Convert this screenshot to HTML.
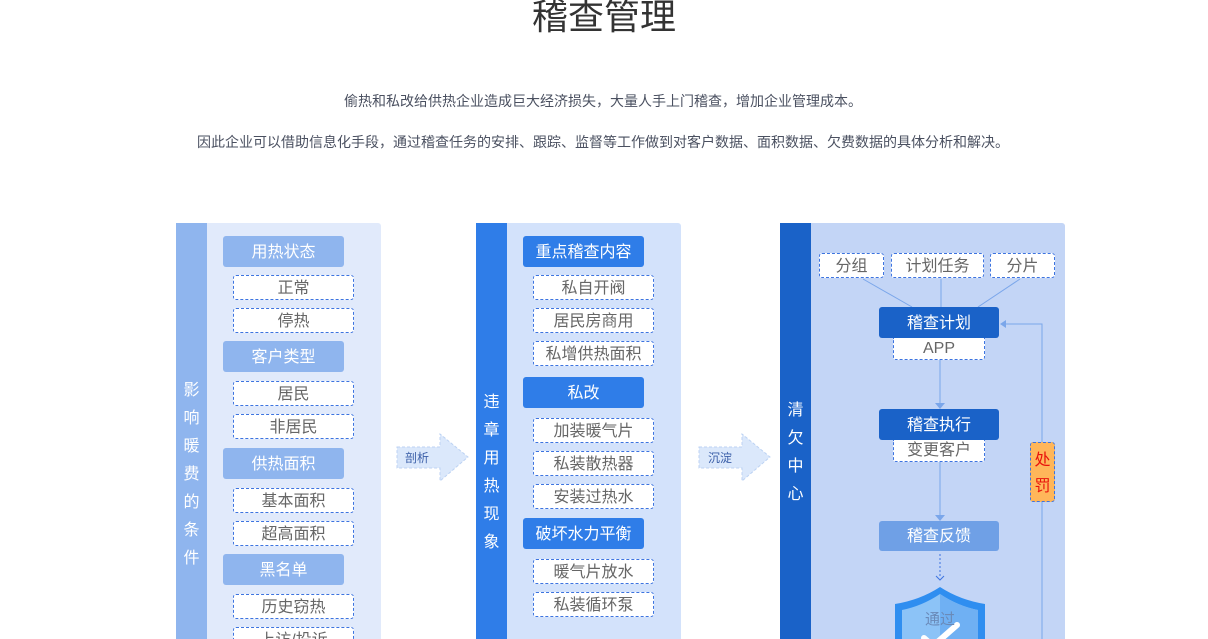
<!DOCTYPE html>
<html><head><meta charset="utf-8"><style>
*{margin:0;padding:0;box-sizing:border-box}
html,body{width:1208px;height:639px;overflow:hidden}
body{background:#fff;position:relative;font-family:"Liberation Sans","Noto Sans CJK SC",sans-serif}
.a{position:absolute}
.t{text-align:center;white-space:nowrap}
.h{position:absolute;width:121px;height:31px;line-height:33px;border-radius:3px;color:#fff;font-size:16px;text-align:center}
.d{position:absolute;width:121px;height:25px;line-height:25px;border:1px dashed #3d74e0;border-radius:3px;background:#fff;color:#666;font-size:16px;text-align:center}
.side{position:absolute;width:31px;color:#fff;font-size:16px;text-align:center;line-height:28px}
</style></head><body>
<div class="a t" style="left:0;width:1208px;top:-6px;font-size:36px;color:#333;line-height:46px">稽查管理</div>
<div class="a t" style="left:4px;width:1198px;top:91px;font-size:14px;color:#4a5060">偷热和私改给供热企业造成巨大经济损失，大量人手上门稽查，增加企业管理成本。</div>
<div class="a t" style="left:4px;width:1198px;top:132px;font-size:14px;color:#4a5060">因此企业可以借助信息化手段，通过稽查任务的安排、跟踪、监督等工作做到对客户数据、面积数据、欠费数据的具体分析和解决。</div>

<!-- panel 1 -->
<div class="a" style="left:176px;top:223px;width:205px;height:420px;background:#e1eafb;border-radius:3px"></div>
<div class="a" style="left:176px;top:223px;width:31px;height:420px;background:#8fb5ee"></div>
<div class="side" style="left:176px;top:377px">影<br>响<br>暖<br>费<br>的<br>条<br>件</div>
<div class="h" style="left:223px;top:236px;background:#8fb5ee">用热状态</div>
<div class="d" style="left:233px;top:275px">正常</div>
<div class="d" style="left:233px;top:308px">停热</div>
<div class="h" style="left:223px;top:341px;background:#8fb5ee">客户类型</div>
<div class="d" style="left:233px;top:381px">居民</div>
<div class="d" style="left:233px;top:414px">非居民</div>
<div class="h" style="left:223px;top:448px;background:#8fb5ee">供热面积</div>
<div class="d" style="left:233px;top:488px">基本面积</div>
<div class="d" style="left:233px;top:521px">超高面积</div>
<div class="h" style="left:223px;top:554px;background:#8fb5ee">黑名单</div>
<div class="d" style="left:233px;top:594px">历史窃热</div>
<div class="d" style="left:233px;top:627px">上访/投诉</div>

<!-- arrows -->
<svg class="a" style="left:0;top:0" width="1208" height="639">
<polygon points="397,447 440,447 440,434 468,457 440,481 440,468 397,468" fill="#dbe8fb" stroke="#bcd2f3" stroke-dasharray="3,2"/>
<polygon points="699,447 742,447 742,434 770,457 742,481 742,468 699,468" fill="#dbe8fb" stroke="#bcd2f3" stroke-dasharray="3,2"/>
</svg>
<div class="a" style="left:405px;top:449px;font-size:12px;color:#3a5ea8">剖析</div>
<div class="a" style="left:708px;top:449px;font-size:12px;color:#3a5ea8">沉淀</div>

<!-- panel 2 -->
<div class="a" style="left:476px;top:223px;width:205px;height:420px;background:#d3e2fb;border-radius:3px"></div>
<div class="a" style="left:476px;top:223px;width:31px;height:420px;background:#2f7de8"></div>
<div class="side" style="left:476px;top:389px">违<br>章<br>用<br>热<br>现<br>象</div>
<div class="h" style="left:523px;top:236px;background:#2f7de8">重点稽查内容</div>
<div class="d" style="left:533px;top:275px">私自开阀</div>
<div class="d" style="left:533px;top:308px">居民房商用</div>
<div class="d" style="left:533px;top:341px">私增供热面积</div>
<div class="h" style="left:523px;top:377px;background:#2f7de8">私改</div>
<div class="d" style="left:533px;top:418px">加装暖气片</div>
<div class="d" style="left:533px;top:451px">私装散热器</div>
<div class="d" style="left:533px;top:484px">安装过热水</div>
<div class="h" style="left:523px;top:518px;background:#2f7de8">破坏水力平衡</div>
<div class="d" style="left:533px;top:559px">暖气片放水</div>
<div class="d" style="left:533px;top:592px">私装循环泵</div>

<!-- panel 3 -->
<div class="a" style="left:780px;top:223px;width:285px;height:420px;background:#c3d5f6;border-radius:3px"></div>
<div class="a" style="left:780px;top:223px;width:31px;height:420px;background:#1a62c8"></div>
<div class="side" style="left:780px;top:397px">清<br>欠<br>中<br>心</div>
<svg class="a" style="left:0;top:0" width="1208" height="639">
<g stroke="#7aa6ea" stroke-width="1" fill="none">
<line x1="863" y1="279" x2="912" y2="307"/>
<line x1="941" y1="279" x2="941" y2="307"/>
<line x1="1020" y1="279" x2="978" y2="307"/>
<line x1="940" y1="360" x2="940" y2="404"/>
<line x1="940" y1="462" x2="940" y2="516"/>
<polyline points="1042,639 1042,324 1004,324"/>
<line x1="940" y1="554" x2="940" y2="578" stroke="#3d74e0" stroke-dasharray="2,2"/>
</g>
<g fill="#7aa6ea">
<polygon points="935,403 945,403 940,409"/>
<polygon points="935,515 945,515 940,521"/>
<polygon points="1000,324 1006,320 1006,328"/>
</g>
<polyline points="936,576 940,580 944,576" stroke="#3d74e0" fill="none"/>
<path d="M895,604 Q920,600 940,587 Q960,600 985,604 L985,639 L895,639 Z" fill="#2f8ef0"/>
<path d="M902,610 Q922,606 940,594 Q958,606 978,610 L978,639 L902,639 Z" fill="#8cc3f7"/>
<path d="M940,594 Q958,606 978,610 L978,639 L940,639 Z" fill="#6fb0f3"/>
<path d="M924,638 L933,646 L957,625" stroke="#fff" stroke-width="6" fill="none" stroke-linecap="round"/>
<text x="940" y="624" font-size="15" fill="#6a8ab8" text-anchor="middle" font-family="Liberation Sans, Noto Sans CJK SC, sans-serif">通过</text>
</svg>
<div class="d" style="left:819px;top:253px;width:65px">分组</div>
<div class="d" style="left:891px;top:253px;width:93px">计划任务</div>
<div class="d" style="left:990px;top:253px;width:65px">分片</div>
<div class="h" style="left:879px;top:307px;width:120px;background:#1a62c8">稽查计划</div>
<div class="d" style="left:893px;top:338px;width:92px;height:22px;line-height:21px;border-top:none;border-radius:0 0 3px 3px">APP</div>
<div class="h" style="left:879px;top:409px;width:120px;background:#1a62c8">稽查执行</div>
<div class="d" style="left:893px;top:440px;width:92px;height:22px;line-height:21px;border-top:none;border-radius:0 0 3px 3px">变更客户</div>
<div class="h" style="left:879px;top:521px;width:120px;height:30px;line-height:32px;background:#6fa0e6">稽查反馈</div>
<div class="a" style="left:1030px;top:442px;width:25px;height:60px;background:#ffb65a;border:1px dashed #3d74e0;border-radius:3px;color:#e8130c;font-size:16px;text-align:center;line-height:26px;padding-top:5px">处<br>罚</div>
</body></html>
